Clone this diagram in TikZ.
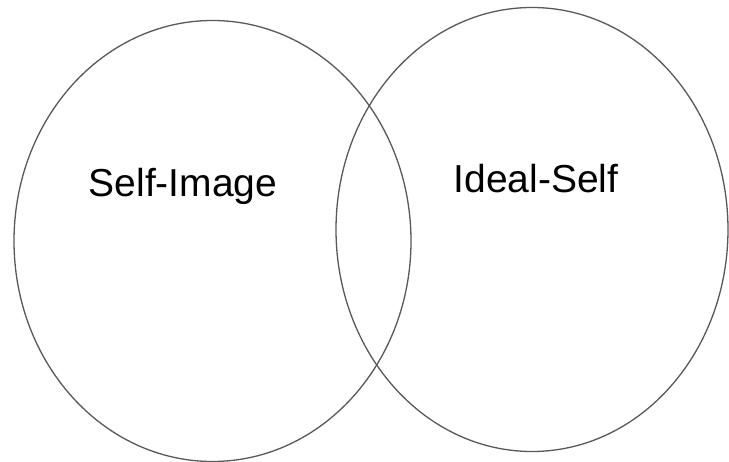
\documentclass[tikz,border=0pt]{standalone}
\usepackage{fontspec}
\setmainfont{Liberation Sans}
\begin{document}
\begin{tikzpicture}[x=1pt,y=-1pt,
  ring/.style={draw=black!65, line width=1.3pt},
  lbl/.style={anchor=base, inner sep=0pt, font=\fontsize{39}{41}\selectfont, text=black}]
\useasboundingbox (0,0) rectangle (729,462);
\fill[white] (0,0) rectangle (729,462);
\draw[ring] (212.5,241) ellipse [x radius=198.5, y radius=220.5];
\draw[ring] (532,229.5) ellipse [x radius=196, y radius=222];
\node[lbl] (selfimage) at (183,197) {Self-Image};
\node[lbl] (idealself) at (536,193) {Ideal-Self};
\end{tikzpicture}
\end{document}
